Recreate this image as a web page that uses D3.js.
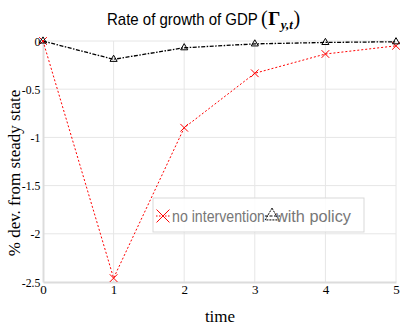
<!DOCTYPE html>
<html>
<head>
<meta charset="utf-8">
<script src="https://cdn.jsdelivr.net/npm/d3@7"></script>
<style>
  body { margin: 0; background: #fff; }
  svg { display: block; }
</style>
</head>
<body>
<div id="chart"></div>
<script>
// data
var periods = [0, 1, 2, 3, 4, 5];
var noIntervention = [0, -2.46, -0.9, -0.335, -0.135, -0.05];
var withPolicy = [0, -0.19, -0.07, -0.03, -0.015, -0.008];
var yTicks = [0, -0.5, -1, -1.5, -2, -2.5];
var seriesNames = ["no intervention", "with policy"];

var W = 400, H = 330;
var margin = { top: 41, right: 4, bottom: 48, left: 43 };
var width = W - margin.left - margin.right,
    height = H - margin.top - margin.bottom;

var svg = d3.select("#chart").append("svg")
    .attr("width", W).attr("height", H);

var g = svg.append("g")
    .attr("transform", "translate(" + margin.left + "," + margin.top + ")");

// Add X axis
var x = d3.scaleLinear()
    .domain([0, 5])
    .range([0, width]);

// Add Y axis
var y = d3.scaleLinear()
    .domain([-2.5, 0])
    .range([height, 0]);

// grid
g.append("g").selectAll("line.vg")
  .data(periods.slice(1))
  .enter().append("line")
    .attr("x1", function(d) { return x(d); })
    .attr("x2", function(d) { return x(d); })
    .attr("y1", 0).attr("y2", height)
    .attr("stroke", "#e6e6e6").attr("stroke-width", 1);

g.append("g").selectAll("line.hg")
  .data(yTicks.slice(0, -1))
  .enter().append("line")
    .attr("x1", 0).attr("x2", width)
    .attr("y1", function(d) { return y(d); })
    .attr("y2", function(d) { return y(d); })
    .attr("stroke", "#e6e6e6").attr("stroke-width", 1);

var xAxis = g.append("g")
    .attr("transform", "translate(0," + height + ")")
    .call(d3.axisBottom(x).tickValues(periods).tickSize(0).tickPadding(5).tickFormat(d3.format("d")));

var yAxis = g.append("g")
    .call(d3.axisLeft(y).tickValues(yTicks).tickSize(0).tickPadding(3)
      .tickFormat(function(d) { return d === 0 ? "0" : String(d); }));

[xAxis, yAxis].forEach(function(a) {
  a.select(".domain").attr("stroke", "#dcdcdc").attr("stroke-width", 2);
  a.selectAll("text")
    .attr("fill", "#000")
    .style("font-family", "'Liberation Serif', 'DejaVu Serif', serif")
    .style("font-size", "13px");
});
xAxis.selectAll("text").attr("dy", "0.5em");
yAxis.selectAll("text").attr("transform", "scale(0.9,1)");

// lines
var line = d3.line()
    .x(function(d, i) { return x(periods[i]); })
    .y(function(d) { return y(d); });

g.append("path")
    .datum(noIntervention)
    .attr("d", line)
    .attr("fill", "none")
    .attr("stroke", "#ff0000")
    .attr("stroke-width", 1)
    .attr("stroke-dasharray", "2,2");

g.append("path")
    .datum(withPolicy)
    .attr("d", line)
    .attr("fill", "none")
    .attr("stroke", "#000")
    .attr("stroke-width", 1.3)
    .attr("stroke-dasharray", "4,1.5,1.5,1.5");

// Add the points
var cross = d3.symbol().type(d3.symbolX).size(40);
var tri = d3.symbol().type(d3.symbolTriangle).size(22);

g.append("g").selectAll("path")
  .data(noIntervention)
  .enter().append("path")
    .attr("d", cross)
    .attr("transform", function(d, i) { return "translate(" + x(periods[i]) + "," + y(d) + ")"; })
    .attr("fill", "none").attr("stroke", "#ff0000").attr("stroke-width", 1);

g.append("g").selectAll("path")
  .data(withPolicy)
  .enter().append("path")
    .attr("d", tri)
    .attr("transform", function(d, i) { return "translate(" + x(periods[i]) + "," + y(d) + ")"; })
    .attr("fill", "none").attr("stroke", "#000").attr("stroke-width", 1);

// squeeze a text horizontally to a given width, anchored at (px, py)
function squeeze(t, px, py, w) {
  var len = t.node().getComputedTextLength();
  t.attr("transform", "translate(" + px + "," + py + ") scale(" + (w / len) + ",1)");
}

// legend
var lg = svg.append("g").attr("transform", "translate(153,198)");
lg.append("rect")
    .attr("width", 211).attr("height", 34)
    .attr("fill", "#fff").attr("fill-opacity", 0.85)
    .attr("stroke", "#d9d9d9").attr("stroke-width", 1);

lg.append("path")
    .attr("d", d3.symbol().type(d3.symbolX).size(110))
    .attr("transform", "translate(10,18)")
    .attr("fill", "none").attr("stroke", "#ff0000").attr("stroke-width", 1);
lg.append("line")
    .attr("x1", 3).attr("x2", 17).attr("y1", 18).attr("y2", 18)
    .attr("stroke", "#ff0000").attr("stroke-dasharray", "1.5,1.5");
var l1 = lg.append("text")
    .attr("fill", "#777")
    .style("font-family", "'Liberation Sans', Arial, sans-serif")
    .style("font-size", "17px")
    .text(seriesNames[0]);
squeeze(l1, 19, 24, 93);

lg.append("path")
    .attr("d", d3.symbol().type(d3.symbolTriangle).size(80))
    .attr("transform", "translate(119,18)")
    .attr("fill", "none").attr("stroke", "#000").attr("stroke-width", 1)
    .attr("stroke-dasharray", "2,1");
lg.append("line")
    .attr("x1", 112).attr("x2", 127).attr("y1", 18).attr("y2", 18)
    .attr("stroke", "#000").attr("stroke-dasharray", "3,1.5");
var l2 = lg.append("text")
    .attr("fill", "#777")
    .style("font-family", "'Liberation Sans', Arial, sans-serif")
    .style("font-size", "17px")
    .text(seriesNames[1]);
squeeze(l2, 123, 24, 75);

// title: plain part, then the math part glyph by glyph
var title = svg.append("text")
    .style("font-family", "'Liberation Sans', Arial, sans-serif")
    .style("font-size", "17px")
    .attr("fill", "#000")
    .text("Rate of growth of GDP");
squeeze(title, 107, 25, 151);

var mathParts = [
  { t: "(", size: 20, weight: "normal", style: "normal", dy: 0 },
  { t: "Γ", size: 19, weight: "bold", style: "normal", dy: 0 },
  { t: "y,t", size: 13, weight: "bold", style: "italic", dy: 4 },
  { t: ")", size: 20, weight: "normal", style: "normal", dy: 0 }
];
var mx = 261;
mathParts.forEach(function(p) {
  var t = svg.append("text")
      .attr("x", mx).attr("y", 25 + p.dy)
      .attr("fill", "#000")
      .style("font-family", "'Liberation Serif', 'DejaVu Serif', serif")
      .style("font-size", p.size + "px")
      .style("font-weight", p.weight)
      .style("font-style", p.style)
      .text(p.t);
  mx += t.node().getComputedTextLength() + 0.5;
});

// axis labels
svg.append("text")
    .attr("x", 220).attr("y", 322)
    .attr("text-anchor", "middle")
    .style("font-family", "'Liberation Serif', serif")
    .style("font-size", "17px")
    .text("time");

svg.append("text")
    .attr("transform", "translate(20,173) rotate(-90)")
    .attr("text-anchor", "middle")
    .style("font-family", "'Liberation Serif', serif")
    .style("font-size", "17px")
    .text("% dev. from steady state");
</script>
</body>
</html>
